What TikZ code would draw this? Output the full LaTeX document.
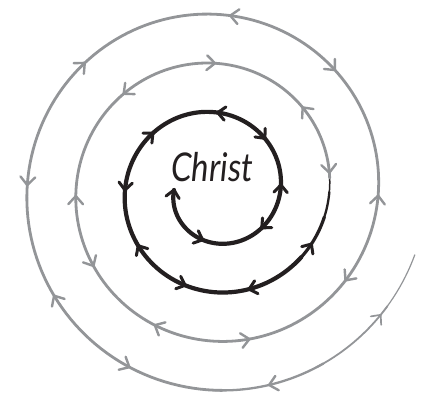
\documentclass[tikz,border=0pt]{standalone}
\usepackage{fontspec}
\setmainfont{Lato}
\usetikzlibrary{calc}
\definecolor{ink}{HTML}{231F20}
\definecolor{gry}{HTML}{939598}
\def\R#1{(41+((#1)+180)/360*49)}
\tikzset{
  spiralink/.style={draw=ink, line cap=round, line join=round},
  spiralgry/.style={draw=gry, line cap=round, line join=round},
  arrowblack/.style={draw=ink, line width=3pt, line cap=round, line join=round},
  arrowgrey/.style={draw=gry, line width=2.4pt, line cap=round, line join=round},
  arrowthin/.style={draw=gry, line width=1.7pt, line cap=round, line join=round},
}
\begin{document}
\begin{tikzpicture}[x=1pt,y=1pt]
\useasboundingbox (0,0) rectangle (421,396);
% black inner spiral
\draw[spiralink, line width=4.2pt] plot[domain=-180:322, samples=200, variable=\t] ({215+\R{\t}*cos(\t)},{206+\R{\t}*sin(\t)});
\draw[spiralink, line width=3.2pt] plot[domain=320:346, samples=20, variable=\t] ({215+\R{\t}*cos(\t)},{206+\R{\t}*sin(\t)});
\draw[spiralink, line width=2.3pt] plot[domain=345:359, samples=12, variable=\t] ({215+\R{\t}*cos(\t)},{206+\R{\t}*sin(\t)});
\draw[spiralink, line width=1.5pt] plot[domain=358:367, samples=8, variable=\t] ({215+\R{\t}*cos(\t)},{206+\R{\t}*sin(\t)});
% grey outer spiral
\draw[spiralgry, line width=2.8pt] plot[domain=366:992, samples=300, variable=\t] ({215+\R{\t}*cos(\t)},{206+\R{\t}*sin(\t)});
\draw[spiralgry, line width=2.3pt] plot[domain=990:1022, samples=20, variable=\t] ({215+\R{\t}*cos(\t)},{206+\R{\t}*sin(\t)});
\draw[spiralgry, line width=1.8pt] plot[domain=1020:1046, samples=20, variable=\t] ({215+\R{\t}*cos(\t)},{206+\R{\t}*sin(\t)});
\draw[spiralgry, line width=1.2pt] plot[domain=1044:1062, samples=12, variable=\t] ({215+\R{\t}*cos(\t)},{206+\R{\t}*sin(\t)});
% arrowheads (d=1 outward, d=-1 inward)
\foreach \a/\d/\s/\L in {-180/-1/arrowblack/10, -104/1/arrowblack/10, -39/-1/arrowblack/10, 4.4/1/arrowblack/10,
  46/-1/arrowblack/10, 88/1/arrowblack/10, 137.5/-1/arrowblack/10, 180/1/arrowblack/10, 216/-1/arrowblack/10,
  252.6/1/arrowblack/10, 289/-1/arrowblack/10, 330.7/1/arrowblack/10,
  368.6/-1/arrowgrey/11, 403.3/1/arrowgrey/11, 450/-1/arrowgrey/11, 493.5/1/arrowgrey/11, 542.5/-1/arrowgrey/11,
  572/1/arrowgrey/11, 606/-1/arrowgrey/11, 643/1/arrowgrey/11, 685.3/-1/arrowgrey/11, 718/1/arrowgrey/11,
  765/-1/arrowgrey/11, 805/1/arrowgrey/11, 855.7/-1/arrowgrey/11, 898.5/1/arrowgrey/11, 933.3/-1/arrowgrey/11,
  964.2/1/arrowgrey/11, 1005.5/-1/arrowgrey/11, 1043/1/arrowthin/10}{
  \pgfmathsetmacro\rr{41+(\a+180)/360*49}
  \pgfmathsetmacro\px{215+\rr*cos(\a)}
  \pgfmathsetmacro\py{206+\rr*sin(\a)}
  \pgfmathsetmacro\ph{\a+90-atan(7.8/\rr)+(\d<0?180:0)}
  \draw[\s] (\px,\py) +(\ph+180-42:\L) -- (\px,\py) -- +(\ph+180+42:\L);
}
\node[anchor=base, text=ink, font=\itshape\fontsize{33}{33}\selectfont, yscale=1.2] (christ) at (212,214) {Christ};
\end{tikzpicture}
\end{document}
